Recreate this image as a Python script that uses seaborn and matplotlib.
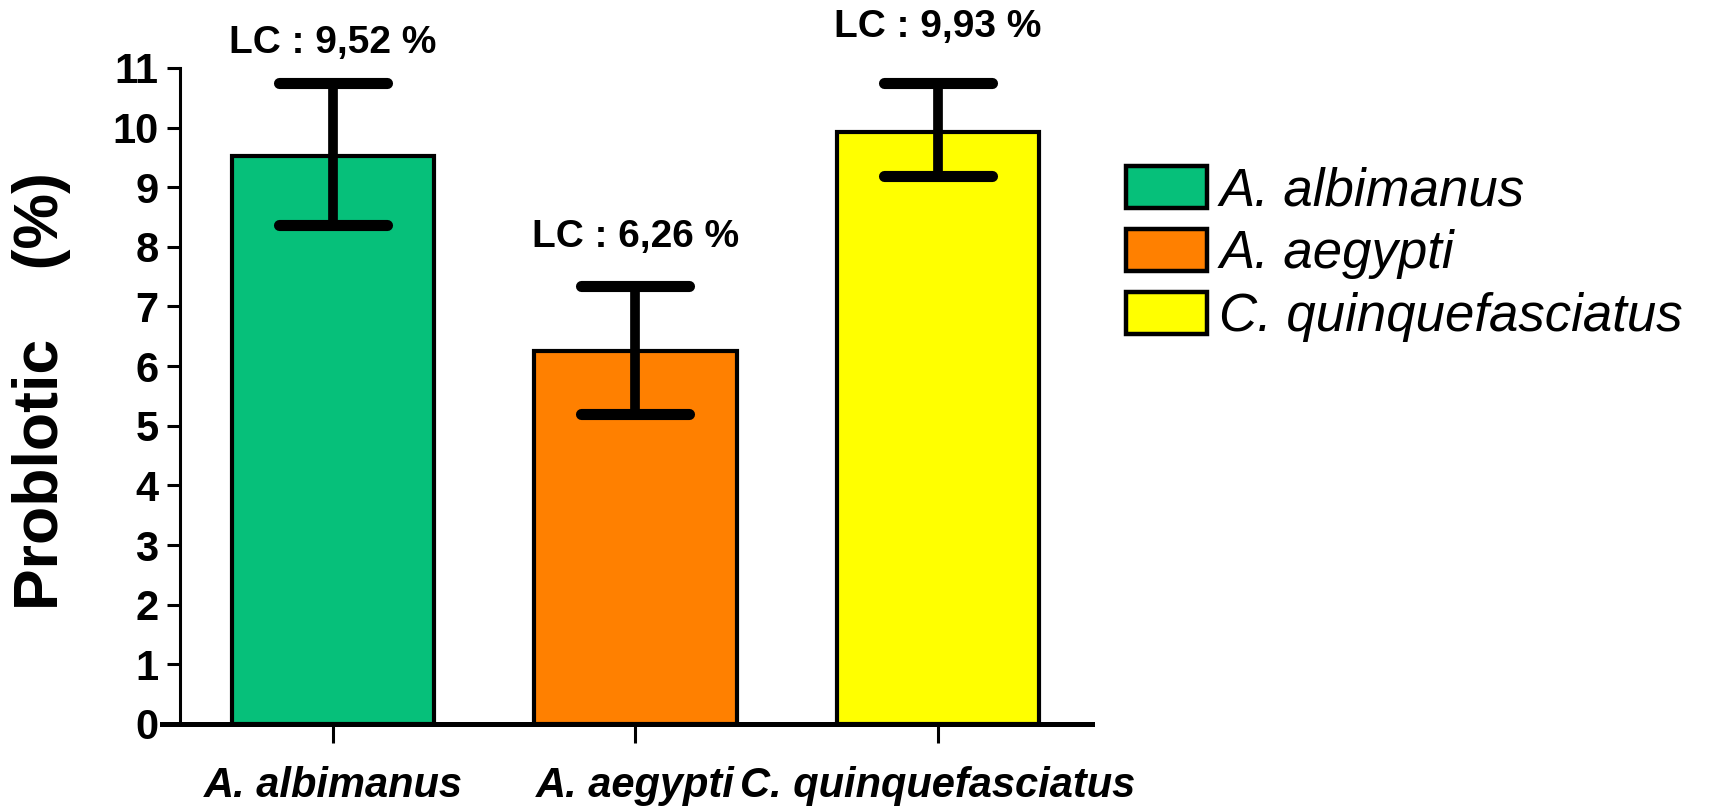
import numpy as np
import pandas as pd
import matplotlib
matplotlib.use("Agg")
import matplotlib.pyplot as plt
from matplotlib.markers import MarkerStyle
import seaborn as sns

# data
species = ["A. albimanus", "A. aegypti", "C. quinquefasciatus"]
lc_values = [9.52, 6.26, 9.93]
err_low = [1.16, 1.06, 0.75]
err_high = [1.22, 1.09, 0.81]
lc_labels = ["LC : 9,52 %", "LC : 6,26 %", "LC : 9,93 %"]
colors = ["#06C07A", "#FF8000", "#FFFF00"]
yticks = list(range(0, 12))

sns.set_style("ticks")
plt.rcParams["font.family"] = ["Liberation Sans", "DejaVu Sans"]
for k in ["text.color", "axes.labelcolor", "xtick.color", "ytick.color", "axes.edgecolor"]:
    plt.rcParams[k] = "black"

df = pd.DataFrame({"species": species, "lc": lc_values})

fig = plt.figure(figsize=(17.12, 8.08), dpi=100)
ax = fig.add_axes([0.0946, 0.104, 0.638 - 0.0946, 0.916 - 0.104])

sns.barplot(data=df, x="species", y="lc", hue="species", palette=colors,
            order=species, hue_order=species, width=0.67, dodge=False,
            saturation=1, edgecolor="black", linewidth=3, legend=False, ax=ax)

x = np.arange(len(species))
eb = ax.errorbar(x, lc_values, yerr=[err_low, err_high], fmt="none", ecolor="black",
                 elinewidth=7, capsize=39, capthick=8, zorder=5)
for cap in eb[1]:
    cap.set_marker(MarkerStyle("_", capstyle="round"))

# LC annotations above the error bars
label_y = [11.41, 8.16, 11.68]
for xi, ty, txt in zip(x, label_y, lc_labels):
    ax.text(xi, ty, txt, ha="center", va="center", fontsize=28,
            fontweight="bold", clip_on=False)

# spines first: moving a spine resets the tick labels
ax.spines["top"].set_visible(False)
ax.spines["right"].set_visible(False)
ax.spines["left"].set_position(("data", -0.505))
ax.spines["left"].set_linewidth(2.2)
ax.spines["bottom"].set_linewidth(3.6)

ax.set_xlim(-0.565, 2.51)
ax.set_ylim(0, 11)
ax.set_yticks(yticks, labels=[str(t) for t in yticks], fontweight="bold", fontsize=30)
ax.set_xticks(x, labels=species, fontweight="bold", fontstyle="italic", fontsize=30)
ax.set_xlabel("")
ax.set_ylabel("")
ax.tick_params(axis="y", length=9.5, width=2.2, pad=6)
ax.tick_params(axis="x", length=14, width=2.2, pad=16)

fig.text(0.0245, 0.104 + 0.507 * (0.916 - 0.104), "Problotic    (%)",
         rotation=90, ha="center", va="center", fontsize=45, fontweight="bold")

handles = [plt.Rectangle((0, 0), 1, 1, facecolor=c, edgecolor="black", linewidth=3.2)
           for c in colors]
leg = fig.legend(handles, species, loc="upper left",
                 bbox_to_anchor=(0.658, 1 - 166 / 808), frameon=False,
                 prop={"size": 38, "style": "italic"},
                 handlelength=1.53, handleheight=0.85, handletextpad=0.23,
                 labelspacing=0.24, borderpad=0, borderaxespad=0)

fig.savefig("out.png", dpi=100)
